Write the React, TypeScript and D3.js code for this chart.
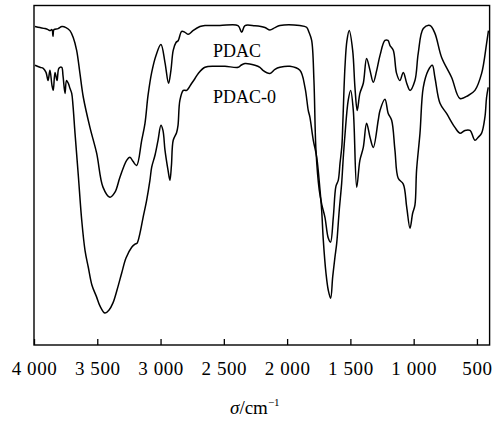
import React, { useEffect, useRef } from 'react';
import * as d3 from 'd3';

// wavenumber (cm-1) and relative transmittance
const pdacWave = [
  3992, 3953, 3913, 3889, 3874, 3858, 3850, 3842, 3810, 3779, 3747, 3716, 3690, 3663, 3637, 3610,
  3558, 3505, 3455, 3400, 3360, 3321, 3268, 3242, 3218, 3189, 3149, 3123, 3099, 3070, 3036, 2997,
  2965, 2937, 2918, 2900, 2878, 2860, 2833, 2807, 2781, 2744, 2689, 2649, 2531, 2388, 2359, 2333,
  2254, 2175, 2136, 2096, 2057, 1899, 1846, 1827, 1806, 1788, 1772, 1746, 1725, 1701, 1675, 1657,
  1635, 1614, 1596, 1582, 1567, 1559, 1543, 1527, 1509, 1482, 1464, 1446, 1425, 1398, 1372, 1345,
  1319, 1292, 1266, 1227, 1203, 1187, 1161, 1135, 1109, 1082, 1055, 1029, 990, 964, 924, 871,
  832, 779, 700, 634, 569, 516, 463, 424, 409
];
const pdacT = [
  93.8, 93.5, 93.2, 92.9, 92.6, 92.9, 90.9, 92.9, 93.2, 93.8, 93.5, 92.6, 90.6, 86.8, 80.0, 72.9,
  64.1, 56.5, 46.5, 43.5, 45.0, 49.4, 54.4, 55.3, 54.1, 52.9, 60.3, 65.3, 73.5, 80.3, 85.3, 88.5,
  83.2, 77.1, 80.9, 86.8, 89.1, 89.7, 92.4, 92.1, 91.5, 92.6, 93.8, 94.1, 94.1, 94.1, 92.1, 94.1,
  94.0, 93.5, 92.8, 93.5, 94.1, 94.1, 93.6, 92.1, 89.7, 77.9, 57.4, 45.6, 41.2, 37.6, 31.5, 30.3,
  37.6, 46.8, 48.5, 53.5, 58.8, 66.2, 81.8, 89.7, 92.6, 86.8, 75.9, 69.1, 74.1, 77.1, 84.4, 80.9,
  77.4, 80.9, 85.3, 89.7, 89.7, 88.2, 86.8, 80.0, 77.9, 80.3, 77.1, 75.0, 77.9, 85.9, 93.2, 94.1,
  91.8, 84.7, 78.8, 72.6, 73.5, 75.0, 80.0, 88.8, 92.6
];

const pdac0Wave = [
  3992, 3953, 3927, 3905, 3889, 3874, 3858, 3848, 3834, 3818, 3803, 3781, 3771, 3755, 3743, 3729,
  3716, 3702, 3692, 3676, 3650, 3623, 3597, 3571, 3542, 3505, 3479, 3439, 3407, 3376, 3344, 3307,
  3273, 3228, 3202, 3186, 3163, 3139, 3110, 3084, 3070, 3044, 3020, 2997, 2981, 2965, 2941, 2926,
  2914, 2900, 2873, 2862, 2847, 2820, 2794, 2754, 2728, 2702, 2649, 2570, 2491, 2386, 2365, 2333,
  2254, 2215, 2191, 2136, 2096, 2057, 1978, 1899, 1859, 1833, 1820, 1793, 1766, 1740, 1727, 1714,
  1693, 1675, 1656, 1640, 1622, 1608, 1588, 1569, 1556, 1543, 1517, 1498, 1477, 1450, 1425, 1398,
  1372, 1345, 1319, 1280, 1266, 1227, 1201, 1174, 1148, 1122, 1082, 1055, 1029, 1008, 990, 977,
  950, 924, 885, 853, 832, 792, 740, 674, 634, 595, 555, 516, 490, 463, 437, 424, 411
];
const pdac0T = [
  82.4, 81.8, 81.5, 80.3, 77.9, 80.9, 76.5, 75.0, 80.3, 77.9, 81.5, 81.8, 79.4, 74.1, 77.9, 77.1,
  75.6, 74.1, 70.6, 62.4, 50.0, 36.8, 27.9, 22.9, 17.6, 14.1, 11.5, 9.4, 10.3, 12.4, 16.2, 21.2,
  25.6, 28.8, 29.7, 30.0, 32.9, 37.4, 42.6, 48.5, 52.4, 55.9, 60.3, 64.7, 63.2, 57.4, 51.5, 48.5,
  52.9, 60.3, 62.6, 64.7, 72.1, 75.0, 75.0, 77.1, 78.5, 80.0, 81.8, 82.1, 82.1, 81.8, 82.4, 82.9,
  82.4, 81.8, 80.9, 80.0, 81.2, 81.8, 82.1, 80.9, 75.9, 69.1, 67.1, 60.3, 55.3, 45.6, 39.7, 30.9,
  21.2, 16.2, 13.8, 20.0, 25.9, 30.0, 39.7, 47.6, 55.3, 61.8, 72.1, 75.0, 69.1, 46.5, 54.4, 58.2,
  65.3, 61.2, 58.2, 66.2, 69.1, 72.4, 68.2, 66.2, 57.4, 49.1, 47.4, 40.6, 34.4, 38.8, 41.2, 51.5,
  62.4, 75.9, 80.9, 82.4, 78.8, 71.2, 68.2, 64.1, 62.4, 63.2, 63.2, 60.3, 61.2, 62.4, 67.1, 72.9, 75.9
];

const xTicks = [4000, 3500, 3000, 2500, 2000, 1500, 1000, 500];
const seriesNames = ['PDAC', 'PDAC-0'];

const App = () => {
  const svgRef = useRef<SVGSVGElement>(null);

  useEffect(() => {
    const svg = d3.select(svgRef.current);
    svg.selectAll('*').remove();

    const left = 34, right = 489.6, top = 5.5, bottom = 345;
    const font = '"Liberation Serif", "Times New Roman", serif';

    const x = d3.scaleLinear().domain([4000, 400]).range([left, right]);
    const y = d3.scaleLinear().domain([0, 100]).range([bottom, top]);

    svg.append('clipPath').attr('id', 'plot')
      .append('rect').attr('x', left).attr('y', top)
      .attr('width', right - left).attr('height', bottom - top);

    const line = d3.line<[number, number]>()
      .x(d => x(d[0]))
      .y(d => y(d[1]))
      .curve(d3.curveCatmullRom.alpha(0.5));

    const series = [
      d3.zip(pdacWave, pdacT) as [number, number][],
      d3.zip(pdac0Wave, pdac0T) as [number, number][]
    ];

    svg.append('g').attr('clip-path', 'url(#plot)')
      .selectAll('path')
      .data(series)
      .join('path')
      .attr('d', d => line(d))
      .attr('fill', 'none')
      .attr('stroke', '#000')
      .attr('stroke-width', 1.5)
      .attr('stroke-linejoin', 'round');

    // x axis, ticks pointing into the plot
    const axis = svg.append('g')
      .attr('transform', `translate(0,${bottom})`)
      .call(d3.axisBottom(x)
        .tickValues(xTicks)
        .tickSizeInner(-6)
        .tickSizeOuter(0)
        .tickFormat(d => d3.format(',')(d as number).replace(',', ' ')));
    axis.select('.domain').remove();
    axis.selectAll('line').attr('stroke', '#000').attr('stroke-width', 1.3);
    axis.selectAll('text')
      .attr('y', 30)
      .attr('dy', 0)
      .attr('font-family', font)
      .attr('font-size', 19)
      .attr('letter-spacing', 0.6)
      .attr('fill', '#000');

    svg.append('rect')
      .attr('x', left).attr('y', top)
      .attr('width', right - left).attr('height', bottom - top)
      .attr('fill', 'none').attr('stroke', '#000').attr('stroke-width', 1.4);

    // curve labels
    svg.selectAll('.lbl')
      .data(seriesNames)
      .join('text')
      .attr('class', 'lbl')
      .attr('x', 213)
      .attr('y', (d, i) => (i === 0 ? 57 : 103))
      .attr('font-family', font)
      .attr('font-size', 18)
      .attr('fill', '#000')
      .text(d => d);

    const title = svg.append('text')
      .attr('x', 230).attr('y', 414)
      .attr('font-family', font)
      .attr('font-size', 19)
      .attr('fill', '#000');
    title.append('tspan').attr('font-style', 'italic').text('σ');
    title.append('tspan').text('/cm');
    title.append('tspan').attr('dy', -8).attr('font-size', 11).text('−1');
  }, []);

  return (
    <svg ref={svgRef} width={495} height={421}
      style={{ position: 'absolute', left: 0, top: 0, background: '#fff' }} />
  );
};

export default App;
